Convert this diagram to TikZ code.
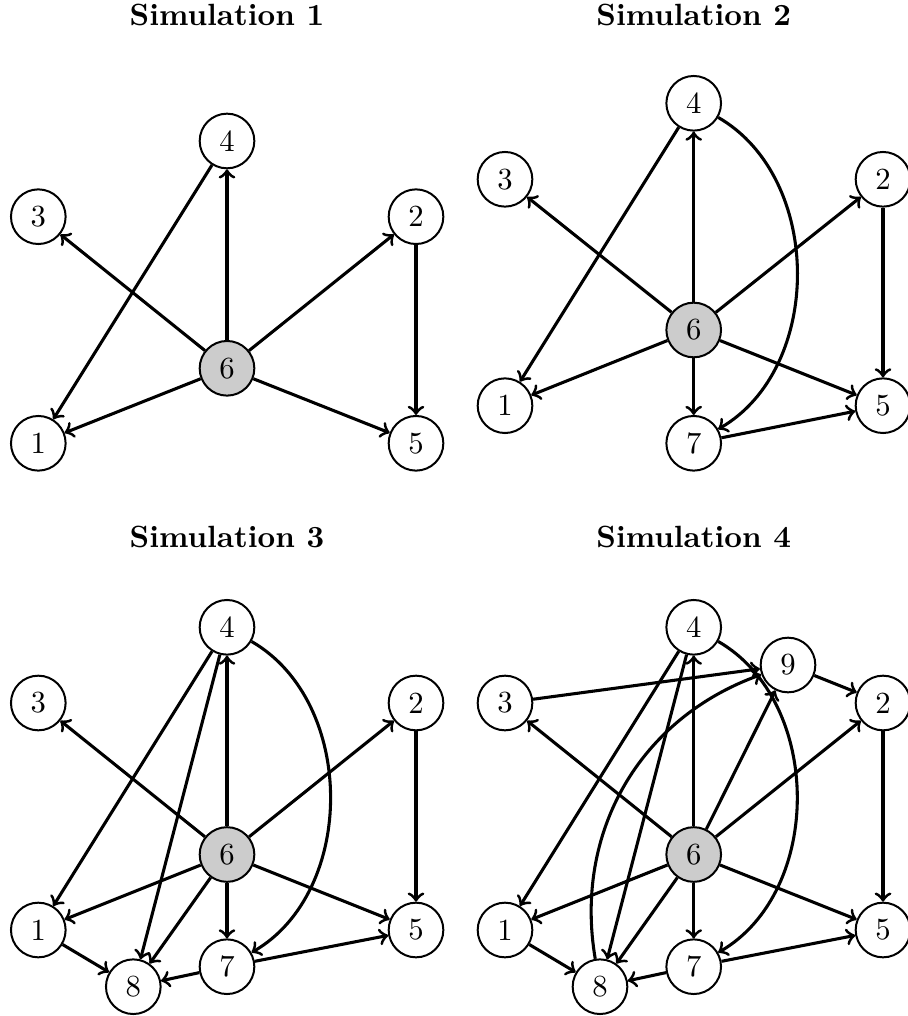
\documentclass[tikz,border=0pt]{standalone}
\begin{document}
\begin{tikzpicture}[x=0.3257pt,y=-0.3257pt,
  vtx/.style={circle,draw,line width=0.65pt,minimum size=17.8pt,inner sep=0pt},
  ctr/.style={vtx,fill=gray!40},
  edge/.style={->,>=to,line width=1pt},
  ttl/.style={font=\bfseries,anchor=base}]
\useasboundingbox (0,0) rectangle (907,1016);
% ---------- Simulation 1
\node[ttl] (t1) at (227,25.3) {Simulation 1};
\node[vtx] (a4) at (227,141) {4};
\node[vtx] (a3) at (38.3,216.7) {3};
\node[vtx] (a2) at (416,216.7) {2};
\node[ctr] (a6) at (227,368.3) {6};
\node[vtx] (a1) at (38.3,443.3) {1};
\node[vtx] (a5) at (416,443.3) {5};
\draw[edge] (a6) -- (a4);
\draw[edge] (a6) -- (a3);
\draw[edge] (a6) -- (a2);
\draw[edge] (a6) -- (a1);
\draw[edge] (a6) -- (a5);
\draw[edge] (a4) -- (a1);
\draw[edge] (a2) -- (a5);
% ---------- Simulation 2
\node[ttl] (t2) at (693.7,25.3) {Simulation 2};
\node[vtx] (b4) at (693.7,103.3) {4};
\node[vtx] (b3) at (505,179.3) {3};
\node[vtx] (b2) at (883,179.3) {2};
\node[ctr] (b6) at (693.7,330) {6};
\node[vtx] (b1) at (505,405.7) {1};
\node[vtx] (b5) at (883,405.7) {5};
\node[vtx] (b7) at (693.7,443.3) {7};
\draw[edge] (b6) -- (b4);
\draw[edge] (b6) -- (b3);
\draw[edge] (b6) -- (b2);
\draw[edge] (b6) -- (b1);
\draw[edge] (b6) -- (b5);
\draw[edge] (b6) -- (b7);
\draw[edge] (b4) -- (b1);
\draw[edge] (b2) -- (b5);
\draw[edge] (b4) to[bend left=60] (b7);
\draw[edge] (b7) -- (b5);
% ---------- Simulation 3
\node[ttl] (t3) at (227,547) {Simulation 3};
\node[vtx] (c4) at (227,627.3) {4};
\node[vtx] (c3) at (38.3,703) {3};
\node[vtx] (c2) at (416,703) {2};
\node[ctr] (c6) at (227,854.5) {6};
\node[vtx] (c1) at (38.3,930) {1};
\node[vtx] (c5) at (416,930) {5};
\node[vtx] (c7) at (227,966.7) {7};
\node[vtx] (c8) at (133.3,986.7) {8};
\draw[edge] (c6) -- (c4);
\draw[edge] (c6) -- (c3);
\draw[edge] (c6) -- (c2);
\draw[edge] (c6) -- (c1);
\draw[edge] (c6) -- (c5);
\draw[edge] (c6) -- (c7);
\draw[edge] (c6) -- (c8);
\draw[edge] (c4) -- (c1);
\draw[edge] (c4) -- (c8);
\draw[edge] (c2) -- (c5);
\draw[edge] (c4) to[bend left=60] (c7);
\draw[edge] (c7) -- (c5);
\draw[edge] (c7) -- (c8);
\draw[edge] (c1) -- (c8);
% ---------- Simulation 4
\node[ttl] (t4) at (693.7,547) {Simulation 4};
\node[vtx] (d4) at (693.7,627.3) {4};
\node[vtx] (d9) at (788,665) {9};
\node[vtx] (d3) at (505,703) {3};
\node[vtx] (d2) at (883,703) {2};
\node[ctr] (d6) at (693.7,854.5) {6};
\node[vtx] (d1) at (505,930) {1};
\node[vtx] (d5) at (883,930) {5};
\node[vtx] (d7) at (693.7,966.7) {7};
\node[vtx] (d8) at (600,986.7) {8};
\draw[edge] (d6) -- (d4);
\draw[edge] (d6) -- (d3);
\draw[edge] (d6) -- (d2);
\draw[edge] (d6) -- (d1);
\draw[edge] (d6) -- (d5);
\draw[edge] (d6) -- (d7);
\draw[edge] (d6) -- (d8);
\draw[edge] (d6) -- (d9);
\draw[edge] (d4) -- (d1);
\draw[edge] (d4) -- (d8);
\draw[edge] (d2) -- (d5);
\draw[edge] (d4) to[bend left=60] (d7);
\draw[edge] (d7) -- (d5);
\draw[edge] (d7) -- (d8);
\draw[edge] (d1) -- (d8);
\draw[edge] (d3) -- (d9);
\draw[edge] (d9) -- (d2);
\draw[edge] (d8) to[bend left=40] (d9);
\end{tikzpicture}
\end{document}
